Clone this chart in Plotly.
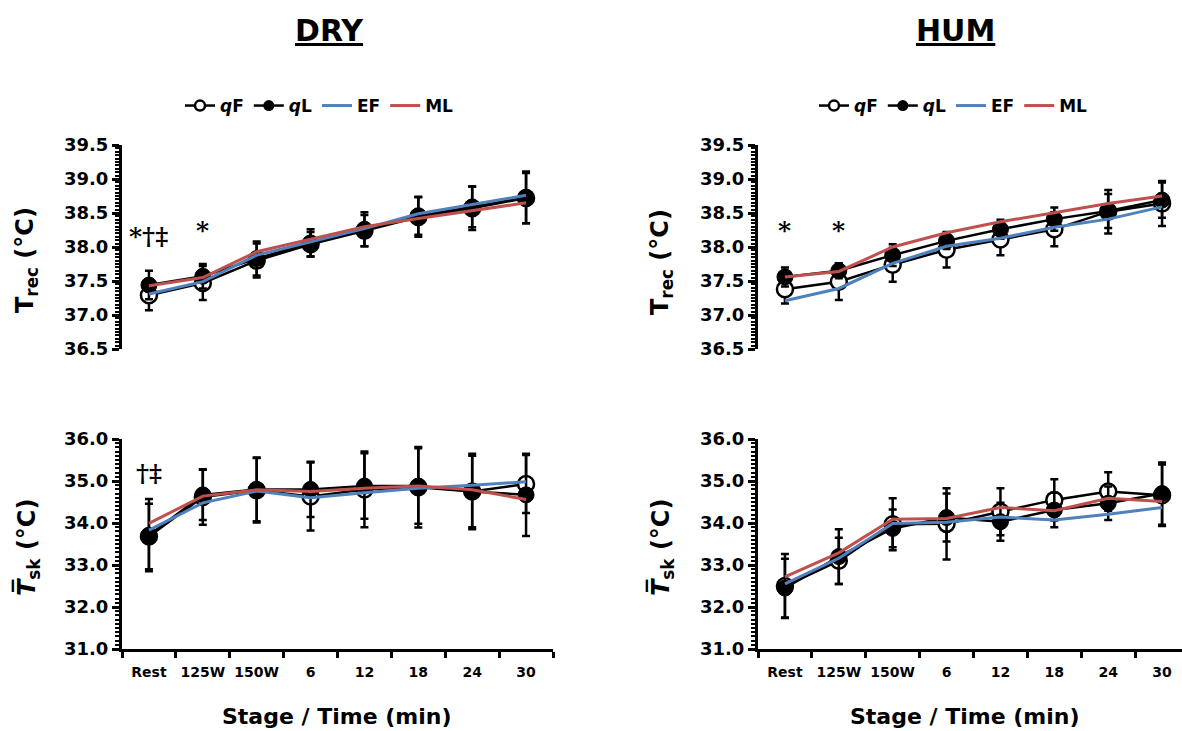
import plotly.graph_objects as go

W, H = 1182, 731

stages = ["Rest", "125W", "150W", "6", "12", "18", "24", "30"]

# ---- DRY, rectal temperature ----
dry_trec_qF = [37.29, 37.47, 37.80, 38.04, 38.24, 38.44, 38.57, 38.72]
dry_trec_qL = [37.44, 37.57, 37.83, 38.06, 38.26, 38.46, 38.59, 38.73]
dry_trec_EF = [37.31, 37.49, 37.88, 38.08, 38.27, 38.49, 38.63, 38.76]
dry_trec_ML = [37.43, 37.55, 37.93, 38.11, 38.30, 38.42, 38.53, 38.65]
dry_trec_sd_qF = [0.22, 0.25, 0.25, 0.18, 0.23, 0.29, 0.32, 0.37]
dry_trec_sd_qL = [0.21, 0.18, 0.25, 0.20, 0.25, 0.28, 0.30, 0.38]

# ---- DRY, mean skin temperature ----
dry_tsk_qF = [33.68, 34.62, 34.78, 34.63, 34.80, 34.85, 34.75, 34.93]
dry_tsk_qL = [33.71, 34.67, 34.80, 34.80, 34.88, 34.88, 34.75, 34.67]
dry_tsk_EF = [33.83, 34.48, 34.76, 34.60, 34.72, 34.83, 34.90, 34.98]
dry_tsk_ML = [33.99, 34.64, 34.79, 34.75, 34.83, 34.88, 34.79, 34.56]
dry_tsk_sd_qF = [0.78, 0.66, 0.77, 0.81, 0.90, 0.96, 0.85, 0.69]
dry_tsk_sd_qL = [0.86, 0.60, 0.76, 0.66, 0.78, 0.90, 0.90, 0.98]

# ---- HUM, rectal temperature ----
hum_trec_qF = [37.38, 37.49, 37.74, 37.96, 38.11, 38.26, 38.52, 38.64]
hum_trec_qL = [37.56, 37.65, 37.88, 38.09, 38.26, 38.41, 38.53, 38.69]
hum_trec_EF = [37.21, 37.39, 37.76, 38.01, 38.13, 38.29, 38.41, 38.59]
hum_trec_ML = [37.56, 37.64, 38.00, 38.21, 38.37, 38.50, 38.64, 38.75]
hum_trec_sd_qF = [0.21, 0.27, 0.25, 0.26, 0.23, 0.25, 0.32, 0.33]
hum_trec_sd_qL = [0.14, 0.11, 0.16, 0.12, 0.14, 0.17, 0.25, 0.26]

# ---- HUM, mean skin temperature ----
hum_tsk_qF = [32.50, 33.10, 33.97, 33.98, 34.27, 34.55, 34.75, 34.66]
hum_tsk_qL = [32.45, 33.20, 33.87, 34.13, 34.03, 34.31, 34.47, 34.70]
hum_tsk_EF = [32.55, 33.16, 33.99, 34.02, 34.14, 34.07, 34.21, 34.37]
hum_tsk_ML = [32.72, 33.29, 34.09, 34.11, 34.37, 34.29, 34.59, 34.51]
hum_tsk_sd_qF = [0.76, 0.55, 0.62, 0.85, 0.56, 0.49, 0.46, 0.73]
hum_tsk_sd_qL = [0.70, 0.65, 0.45, 0.57, 0.45, 0.41, 0.40, 0.74]

FONT = "DejaVu Sans"
BLUE = "#4F81BD"
RED = "#C0504D"


def px(x):
    return x / W


def py(y):
    return 1 - y / H


fig = go.Figure()

panels = [
    ("x", "y", dry_trec_qF, dry_trec_qL, dry_trec_EF, dry_trec_ML, dry_trec_sd_qF, dry_trec_sd_qL, "legend"),
    ("x2", "y2", hum_trec_qF, hum_trec_qL, hum_trec_EF, hum_trec_ML, hum_trec_sd_qF, hum_trec_sd_qL, "legend2"),
    ("x3", "y3", dry_tsk_qF, dry_tsk_qL, dry_tsk_EF, dry_tsk_ML, dry_tsk_sd_qF, dry_tsk_sd_qL, None),
    ("x4", "y4", hum_tsk_qF, hum_tsk_qL, hum_tsk_EF, hum_tsk_ML, hum_tsk_sd_qF, hum_tsk_sd_qL, None),
]

for xa, ya, qF, qL, EF, ML, sdF, sdL, leg in panels:
    fig.add_trace(go.Scatter(
        x=stages, y=qF, xaxis=xa, yaxis=ya, name="<i>q</i>F", mode="lines+markers",
        line=dict(color="black", width=2.5),
        marker=dict(symbol="circle", size=16, color="white", line=dict(color="black", width=2.5)),
        error_y=dict(type="data", array=sdF, color="black", thickness=2.5, width=4),
        showlegend=False))
    fig.add_trace(go.Scatter(
        x=stages, y=qL, xaxis=xa, yaxis=ya, name="<i>q</i>L", mode="lines+markers",
        line=dict(color="black", width=2.5),
        marker=dict(symbol="circle", size=16, color="black", line=dict(color="black", width=1)),
        error_y=dict(type="data", array=sdL, color="black", thickness=2.5, width=4),
        showlegend=False))
    fig.add_trace(go.Scatter(
        x=stages, y=EF, xaxis=xa, yaxis=ya, name="EF", mode="lines",
        line=dict(color=BLUE, width=3), showlegend=False))
    fig.add_trace(go.Scatter(
        x=stages, y=ML, xaxis=xa, yaxis=ya, name="ML", mode="lines",
        line=dict(color=RED, width=3), showlegend=False))
    if leg:
        # legend entries with smaller symbols, as in the original key
        fig.add_trace(go.Scatter(
            x=[None], y=[None], xaxis=xa, yaxis=ya, name="<i>q</i>F", mode="lines+markers",
            line=dict(color="black", width=2.5),
            marker=dict(symbol="circle", size=10, color="white", line=dict(color="black", width=2.5)),
            legend=leg))
        fig.add_trace(go.Scatter(
            x=[None], y=[None], xaxis=xa, yaxis=ya, name="<i>q</i>L", mode="lines+markers",
            line=dict(color="black", width=2.5),
            marker=dict(symbol="circle", size=11, color="black"), legend=leg))
        fig.add_trace(go.Scatter(
            x=[None], y=[None], xaxis=xa, yaxis=ya, name="EF", mode="lines",
            line=dict(color=BLUE, width=3), legend=leg))
        fig.add_trace(go.Scatter(
            x=[None], y=[None], xaxis=xa, yaxis=ya, name="ML", mode="lines",
            line=dict(color=RED, width=3), legend=leg))

# axis geometry (pixels)
LX0, LX1 = 122, 553
RX0 = 758
CAT = (LX1 - LX0) / 8.0
r_right = -0.5 + (W - RX0) / CAT
TY0, TY1 = 145, 349
BY0, BY1 = 439, 649

tickfont_y = dict(family=FONT, size=18, color="black", weight="bold")
tickfont_x = dict(family=FONT, size=14, color="black", weight="bold")


def yaxis(dom, rng, dtick, mdtick, anchor):
    return dict(domain=dom, range=rng, dtick=dtick, tick0=rng[0], tickformat=".1f",
                showline=True, linewidth=3, linecolor="black", ticks="outside",
                ticklen=7, tickwidth=2.5, tickcolor="black", showgrid=False, zeroline=False,
                tickfont=tickfont_y, anchor=anchor, automargin=False,
                minor=dict(dtick=mdtick, tick0=rng[0], ticks="outside", ticklen=4,
                           tickwidth=2, tickcolor="black", showgrid=False))


def xaxis_bottom(dom, rng, anchor):
    return dict(domain=dom, range=rng, type="category", categoryorder="array",
                categoryarray=stages, tickson="boundaries", ticks="outside", ticklen=6,
                tickwidth=2.5, tickcolor="black", showline=True, linewidth=3,
                linecolor="black", showgrid=False, zeroline=False, tickfont=tickfont_x,
                anchor=anchor, ticklabelstandoff=8, tickangle=0, automargin=False)


def xaxis_top(dom, rng, anchor):
    return dict(domain=dom, range=rng, type="category", categoryorder="array",
                categoryarray=stages, visible=False, anchor=anchor, automargin=False)


ldom = [px(LX0), px(LX1)]
rdom = [px(RX0), 1.0]
tdom = [py(TY1), py(TY0)]
bdom = [py(BY1), py(BY0)]

legend_style = dict(orientation="h", xanchor="left", yanchor="middle",
                    font=dict(family=FONT, size=17, color="black", weight="bold"),
                    itemwidth=30, bgcolor="rgba(0,0,0,0)", tracegroupgap=0)

fig.update_layout(
    width=W, height=H, autosize=False,
    margin=dict(l=0, r=0, t=0, b=0, pad=0, autoexpand=False),
    paper_bgcolor="white", plot_bgcolor="white",
    font=dict(family=FONT, color="black", size=16, weight="bold"),
    xaxis=xaxis_top(ldom, [-0.5, 7.5], "y"),
    xaxis2=xaxis_top(rdom, [-0.5, r_right], "y2"),
    xaxis3=xaxis_bottom(ldom, [-0.5, 7.5], "y3"),
    xaxis4=xaxis_bottom(rdom, [-0.5, r_right], "y4"),
    yaxis=yaxis(tdom, [36.5, 39.5], 0.5, 0.05, "x"),
    yaxis2=yaxis(tdom, [36.5, 39.5], 0.5, 0.05, "x2"),
    yaxis3=yaxis(bdom, [31.0, 36.0], 1.0, 0.1, "x3"),
    yaxis4=yaxis(bdom, [31.0, 36.0], 1.0, 0.1, "x4"),
    legend=dict(x=px(180), y=py(106), **legend_style),
    legend2=dict(x=px(814), y=py(106), **legend_style),
)

ann = []
# panel titles
for txt, cx in [("DRY", 329), ("HUM", 955)]:
    ann.append(dict(text="<u>" + txt + "</u>", x=px(cx), y=py(30), xref="paper", yref="paper",
                    showarrow=False, xanchor="center", yanchor="middle",
                    font=dict(family=FONT, size=30, color="black", weight="bold")))
# x-axis titles
for cx in [337, 965]:
    ann.append(dict(text="Stage / Time (min)", x=px(cx), y=py(716), xref="paper", yref="paper",
                    showarrow=False, xanchor="center", yanchor="middle",
                    font=dict(family=FONT, size=22, color="black", weight="bold")))
# y-axis titles
trec_title = "T<sub>rec</sub> (°C)"
tsk_title = "<i>T\u0305</i><sub>sk</sub> (°C)"
for cx, cy, txt in [(27, 260, trec_title), (661, 262, trec_title),
                    (27, 548, tsk_title), (661, 548, tsk_title)]:
    ann.append(dict(text=txt, x=px(cx), y=py(cy), xref="paper", yref="paper",
                    showarrow=False, xanchor="center", yanchor="middle", textangle=-90,
                    font=dict(family=FONT, size=24, color="black", weight="bold")))
# significance symbols
sig = [
    ("x", "y", "Rest", 38.15, "*†‡"),
    ("x", "y", "125W", 38.24, "*"),
    ("x2", "y2", "Rest", 38.24, "*"),
    ("x2", "y2", "125W", 38.24, "*"),
    ("x3", "y3", "Rest", 35.18, "†‡"),
]
for xr, yr, xv, yv, txt in sig:
    ann.append(dict(text=txt, x=xv, y=yv, xref=xr, yref=yr, showarrow=False,
                    xanchor="center", yanchor="middle",
                    font=dict(family="DejaVu Serif", size=25, color="black")))
fig.update_layout(annotations=ann)

fig.write_html("out.html")
